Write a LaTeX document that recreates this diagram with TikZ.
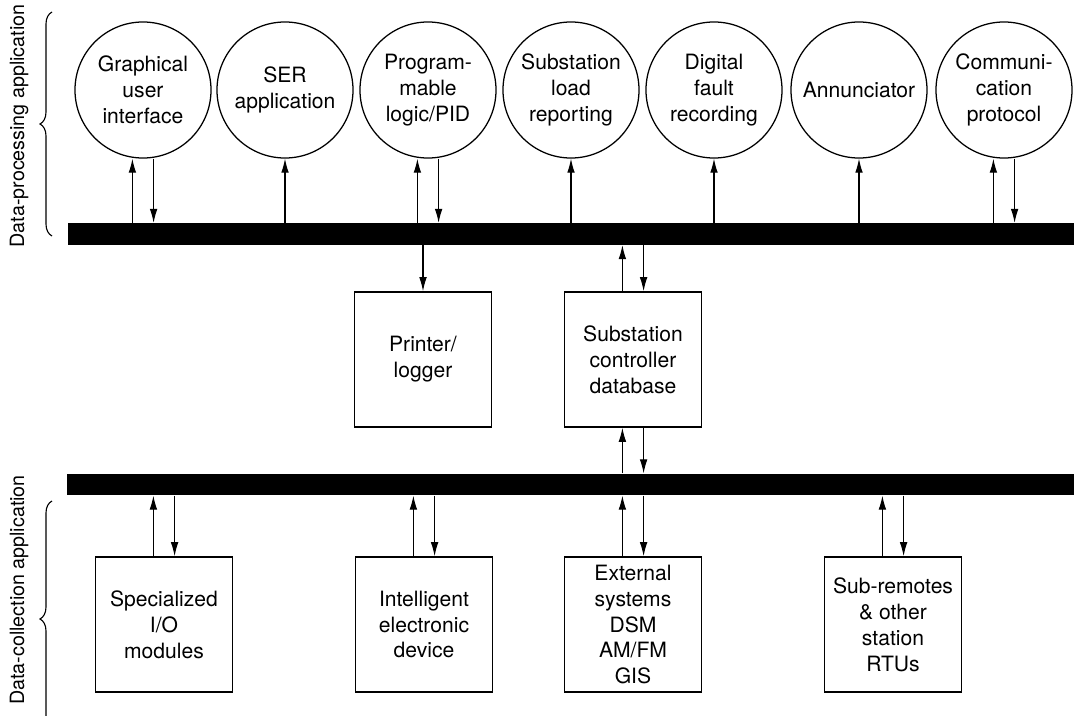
\documentclass[tikz,border=0pt]{standalone}
\usepackage{fontspec}
\setmainfont{TeX Gyre Heros}
\usetikzlibrary{arrows.meta,decorations.pathreplacing}

\tikzset{
  app/.style={circle, draw, line width=0.9pt, minimum size=3.4cm, inner sep=0pt,
              align=center, font=\fontsize{15}{18.4}\selectfont},
  unit/.style={rectangle, draw, line width=0.9pt, minimum width=3.42cm,
               minimum height=3.38cm, inner sep=0pt, align=center,
               font=\fontsize{15}{18.4}\selectfont},
  bus/.style={rectangle, fill=black, inner sep=0pt, minimum height=0.54cm},
  flow/.style={line width=0.8pt, -{Latex[length=3.5mm,width=1.9mm]}},
  side/.style={rotate=90, font=\fontsize{14}{17}\selectfont},
  curly/.style={decorate, decoration={brace, amplitude=0.3cm}, line width=0.8pt}
}

\begin{document}
\begin{tikzpicture}[x=0.025cm, y=-0.025cm]
\useasboundingbox (0,0) rectangle (1074,716);
% ---- data-processing applications ----
\foreach \nm/\xx/\txt in {gui/143/{Graphical\\user\\interface},
                          ser/285/{SER\\application},
                          plc/428/{Program-\\mable\\logic/PID},
                          load/571/{Substation\\load\\reporting},
                          dfr/714/{Digital\\fault\\recording},
                          ann/859/{Annunciator},
                          comm/1004/{Communi-\\cation\\protocol}} {
  \node[app] (\nm) at (\xx,90) {\txt};
}
% ---- the two buses ----
\node[bus, minimum width=25.15cm] (topbus) at (571,234) {};
\node[bus, minimum width=25.18cm] (lowbus) at (570.5,484.5) {};
% ---- boxes between the buses ----
\node[unit] (printer) at (423,359.5) {Printer/\\logger};
\node[unit] (scdb) at (633,359.5) {Substation\\controller\\database};
% ---- data-collection devices ----
\foreach \nm/\xx/\txt in {sio/164/{Specialized\\I/O\\modules},
                          ied/424/{Intelligent\\electronic\\device},
                          ext/633/{External\\systems\\DSM\\AM/FM\\GIS},
                          rtu/893/{Sub-remotes\\\& other\\station\\RTUs}} {
  \node[unit] (\nm) at (\xx,624.5) {\txt};
}
% circles <-> top bus
\foreach \nm in {gui, plc, comm} {
  \draw[flow] ([xshift=-2.65mm]\nm.south |- topbus.north) -- ([xshift=-2.65mm]\nm.south);
  \draw[flow] ([xshift=2.65mm]\nm.south) -- ([xshift=2.65mm]\nm.south |- topbus.north);
}
\foreach \nm in {ser, load, dfr, ann}
  \draw[flow] (\nm.south |- topbus.north) -- (\nm.south);
% top bus <-> printer and database
\draw[flow] (printer.north |- topbus.south) -- (printer.north);
\draw[flow] ([xshift=-2.65mm]scdb.north) -- ([xshift=-2.65mm]scdb.north |- topbus.south);
\draw[flow] ([xshift=2.65mm]scdb.north |- topbus.south) -- ([xshift=2.65mm]scdb.north);
% database <-> lower bus
\draw[flow] ([xshift=-2.65mm]scdb.south |- lowbus.north) -- ([xshift=-2.65mm]scdb.south);
\draw[flow] ([xshift=2.65mm]scdb.south) -- ([xshift=2.65mm]scdb.south |- lowbus.north);
% devices <-> lower bus
\foreach \nm in {sio, ied, ext, rtu} {
  \draw[flow] ([xshift=-2.65mm]\nm.north) -- ([xshift=-2.65mm]\nm.north |- lowbus.south);
  \draw[flow] ([xshift=2.65mm]\nm.north |- lowbus.south) -- ([xshift=2.65mm]\nm.north);
}
% ---- side braces ----
\draw[curly] (52,236) -- (52,12);
\draw[curly] (52,737) -- (52,501);
\node[side] (dpa) at (19,126) {Data-processing application};
\node[side] (dca) at (19,590) {Data-collection application};
\end{tikzpicture}
\end{document}
